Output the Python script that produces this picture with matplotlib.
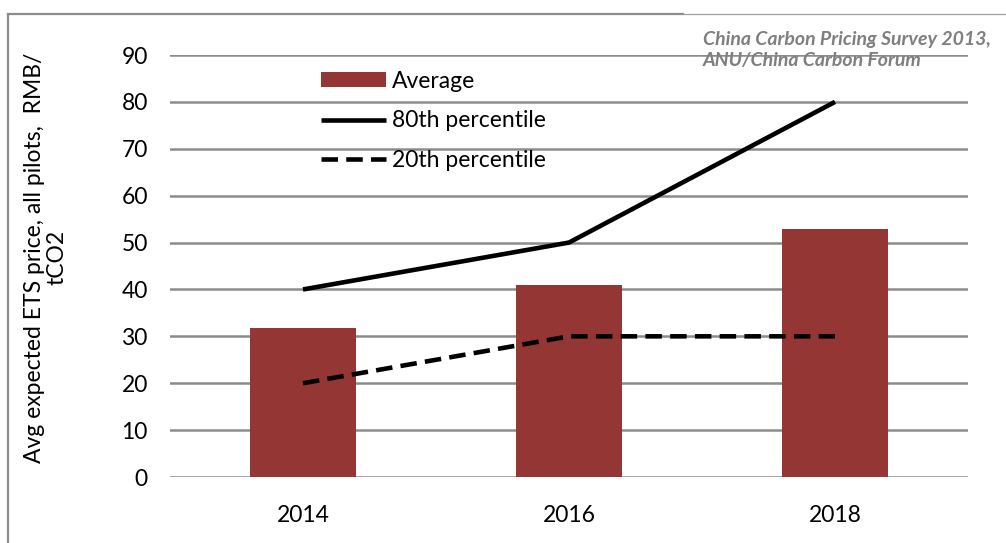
import matplotlib
matplotlib.use("Agg")
import matplotlib.pyplot as plt
from matplotlib.lines import Line2D
import numpy as np

years = ["2014", "2016", "2018"]
average = [31.7, 40.9, 52.8]
p80 = [40, 50, 80]
p20 = [20, 30, 30]
yticks = [0, 10, 20, 30, 40, 50, 60, 70, 80, 90]

plt.rcParams['font.family'] = ['Lato', 'DejaVu Sans']

W, H = 1006, 543
fig = plt.figure(figsize=(W / 100, H / 100), dpi=100)
ax = fig.add_axes([170 / W, 1 - 477 / H, (968 - 170) / W, (477 - 55) / H])

x = np.arange(len(years)) + 0.5
bar_color = "#943634"
bars = ax.bar(x, average, width=0.4, color=bar_color, zorder=2, label="Average")
l80, = ax.plot(x, p80, color="black", lw=3.3, solid_capstyle="butt", solid_joinstyle="miter",
               zorder=3, label="80th percentile")
l20, = ax.plot(x, p20, color="black", lw=3.3, dashes=(3.6, 1.8), dash_capstyle="butt",
               zorder=3, label="20th percentile")

ax.set_xlim(0, 3)
ax.set_ylim(0, 90)
ax.set_yticks(yticks)
ax.set_xticks(x)
ax.set_xticklabels(years)
ax.yaxis.grid(True, color="#8c8c8c", lw=1.8, zorder=0)
ax.set_axisbelow(True)
for s in ax.spines.values():
    s.set_visible(False)
ax.tick_params(axis="both", length=0, labelsize=16.5, colors="black")
ax.tick_params(axis="y", pad=16)
ax.tick_params(axis="x", pad=20)
ax.set_ylabel("Avg expected ETS price, all pilots,  RMB/\ntCO2", fontsize=16.5,
              linespacing=1.1, multialignment="center")
ax.yaxis.set_label_coords(-0.128, 0.52)

leg = ax.legend([bars, l80, l20], ["Average", "80th percentile", "20th percentile"],
                loc="upper left", bbox_to_anchor=(300 / W, 1 - 50 / H),
                bbox_transform=fig.transFigure, frameon=False, fontsize=16.5,
                handlelength=2.85, handletextpad=0.25, labelspacing=0.82,
                handleheight=0.65)

fig.text(703 / W, 1 - 50 / H, "China Carbon Pricing Survey 2013,\nANU/China Carbon Forum",
         fontsize=14, style="italic", weight="bold", color="#7f7f7f",
         va="center", ha="left", linespacing=1.3)

# chart frame lines
fig.add_artist(Line2D([7.5 / W, 7.5 / W], [0, 1 - 14 / H], color="#8c8c8c", lw=1.6,
                      transform=fig.transFigure))
fig.add_artist(Line2D([7.5 / W, 683 / W], [1 - 14 / H, 1 - 14 / H], color="#8c8c8c", lw=1.6,
                      transform=fig.transFigure))
fig.add_artist(Line2D([683 / W, 1], [1 - 13.5 / H, 1 - 13.5 / H], color="#a0a0a0", lw=0.9,
                      transform=fig.transFigure))

fig.savefig("out.png", dpi=100)
